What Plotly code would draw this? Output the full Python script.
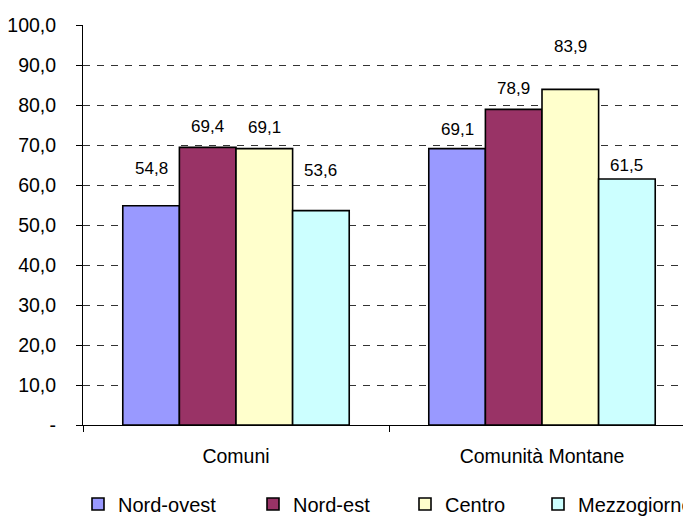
import plotly.graph_objects as go

categories = ["Comuni", "Comunità Montane"]
series_names = ["Nord-ovest", "Nord-est", "Centro", "Mezzogiorno"]
nord_ovest = [54.8, 69.1]
nord_est = [69.4, 78.9]
centro = [69.1, 83.9]
mezzogiorno = [53.6, 61.5]
tick_vals = [0, 10, 20, 30, 40, 50, 60, 70, 80, 90, 100]
tick_text = ["-", "10,0", "20,0", "30,0", "40,0", "50,0", "60,0", "70,0", "80,0", "90,0", "100,0"]

series_values = [nord_ovest, nord_est, centro, mezzogiorno]
colors = ["#9999FF", "#993366", "#FFFFCC", "#CCFFFF"]
# vertical offset (px) of each value label above its bar, per category then series
label_shift = [[37, 21, 21, 40], [19, 21, 43, 14]]
# legend entry left edges (px in figure coordinates)
legend_px = [70, 245, 397, 530]

W, H = 691, 516
FONT = "Liberation Sans, Arial, sans-serif"
bargap = 0.26

fig = go.Figure()
for k, (name, vals) in enumerate(zip(series_names, series_values)):
    lg = "legend" if k == 0 else f"legend{k+1}"
    fig.add_trace(go.Bar(
        name=name, x=categories, y=vals,
        marker=dict(color=colors[k], line=dict(color="black", width=1.6)),
        legend=lg, showlegend=True,
    ))

n = len(series_names)
bw = (1 - bargap) / n
for i, cat in enumerate(categories):
    for k, vals in enumerate(series_values):
        xc = i - (1 - bargap) / 2 + bw * (k + 0.5)
        fig.add_annotation(
            x=xc, y=vals[i], xref="x", yref="y",
            text=f"{vals[i]:.1f}".replace(".", ","),
            showarrow=False, yanchor="middle", yshift=label_shift[i][k],
            font=dict(family=FONT, size=17, color="black"),
        )

layout_legends = {}
for k in range(n):
    key = "legend" if k == 0 else f"legend{k+1}"
    layout_legends[key] = dict(
        x=legend_px[k] / W, y=1 - 496 / H, xref="container", yref="container",
        xanchor="left", yanchor="middle",
        orientation="h", bgcolor="rgba(0,0,0,0)",
        font=dict(family=FONT, size=20, color="black"),
    )

fig.update_layout(
    width=W, height=H,
    margin=dict(l=75, r=4, t=17, b=99),
    paper_bgcolor="white", plot_bgcolor="white",
    barmode="group", bargap=bargap, bargroupgap=0,
    showlegend=True,
    font=dict(family=FONT, size=20, color="black"),
    **layout_legends,
)
fig.update_xaxes(
    type="category", range=[-0.5, 1.5], automargin=False,
    showline=True, linecolor="black", linewidth=1,
    ticks="outside", tickson="boundaries", ticklen=6, tickcolor="black",
    showgrid=False, ticklabelstandoff=14,
    tickfont=dict(family=FONT, size=19.5, color="black"),
)
fig.update_yaxes(
    range=[0, 100], tickvals=tick_vals, ticktext=tick_text, automargin=False,
    showline=True, linecolor="black", linewidth=1,
    ticks="outside", ticklen=6, tickcolor="black",
    showgrid=True, gridcolor="#333333", gridwidth=1, griddash="7px,7px",
    ticklabelstandoff=16, zeroline=False,
    tickfont=dict(family=FONT, size=19.5, color="black"),
)

fig.write_html("out.html")
